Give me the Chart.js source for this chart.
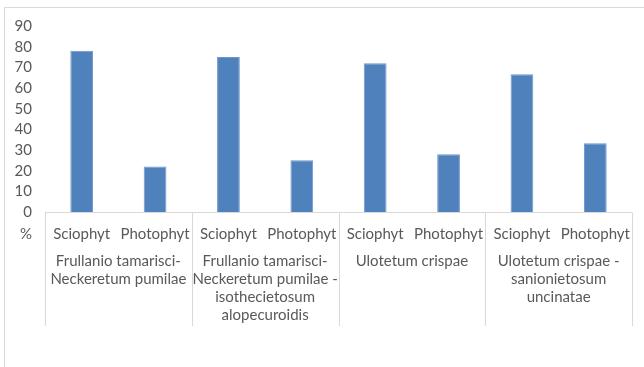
<!DOCTYPE html>
<html>
<head>
<meta charset="utf-8">
<script src="https://cdn.jsdelivr.net/npm/chart.js@4"></script>
<style>
  html, body { margin: 0; padding: 0; background: #fff; }
  #wrap { width: 644px; height: 367px; position: relative; }
</style>
</head>
<body>
<div id="wrap"><canvas id="chart" width="644" height="367"></canvas></div>
<script>
// Plant communities (outer axis level), each label split into its lines
const communities = [
  ['Frullanio tamarisci-', 'Neckeretum pumilae'],
  ['Frullanio tamarisci-', 'Neckeretum pumilae -', 'isothecietosum', 'alopecuroidis'],
  ['Ulotetum crispae'],
  ['Ulotetum crispae -', 'sanionietosum', 'uncinatae']
];
// Light preference groups (inner axis level)
const lightTypes = ['Sciophyt', 'Photophyt'];
// Share of species per group, in %
const sciophytValues = [78, 75, 72, 66.7];
const photophytValues = [22, 25, 28, 33.3];
const yTicks = [0, 10, 20, 30, 40, 50, 60, 70, 80, 90];
const yUnit = '%';

const labels = [];
const values = [];
communities.forEach((c, i) => {
  labels.push(lightTypes[0]); values.push(sciophytValues[i]);
  labels.push(lightTypes[1]); values.push(photophytValues[i]);
});

const FAMILY = 'Lato, "Open Sans", sans-serif';
const FONT = '15px ' + FAMILY;
const TEXT = '#595959';
const LINE = '#d9d9d9';

// Draws the outer frame, the two-level category axis and the unit label
const axisPlugin = {
  id: 'groupAxis',
  beforeDraw(chart) {
    const ctx = chart.ctx;
    ctx.save();
    ctx.fillStyle = '#fff';
    ctx.fillRect(0, 0, chart.width, chart.height);
    ctx.strokeStyle = LINE;
    ctx.lineWidth = 1;
    ctx.beginPath();
    ctx.moveTo(4.5, chart.height);
    ctx.lineTo(4.5, 7.5);
    ctx.lineTo(chart.width, 7.5);
    ctx.stroke();
    ctx.restore();
  },
  afterDraw(chart) {
    const ctx = chart.ctx;
    const x = chart.scales.x;
    const y = chart.scales.y;
    const zeroY = Math.round(y.getPixelForValue(0)) + 0.5;
    const step = x.getPixelForValue(1) - x.getPixelForValue(0);
    const bottom = 326;
    ctx.save();
    ctx.strokeStyle = LINE;
    ctx.lineWidth = 1;
    ctx.beginPath();
    ctx.moveTo(x.left, zeroY);
    ctx.lineTo(x.right, zeroY);
    for (let g = 0; g <= communities.length; g++) {
      const px = Math.round(x.getPixelForValue(g * 2) - step / 2) + 0.5;
      ctx.moveTo(px, zeroY);
      ctx.lineTo(px, bottom);
    }
    ctx.stroke();

    ctx.fillStyle = TEXT;
    ctx.font = FONT;
    ctx.textBaseline = 'middle';
    ctx.textAlign = 'center';
    labels.forEach((lab, i) => {
      ctx.fillText(lab, x.getPixelForValue(i), 234);
    });
    communities.forEach((lines, g) => {
      const cx = (x.getPixelForValue(g * 2) + x.getPixelForValue(g * 2 + 1)) / 2;
      lines.forEach((ln, k) => ctx.fillText(ln, cx, 261 + k * 18));
    });
    ctx.textAlign = 'right';
    ctx.fillText(yUnit, 32, 234);
    ctx.restore();
  }
};

new Chart(document.getElementById('chart'), {
  type: 'bar',
  data: {
    labels: labels,
    datasets: [{
      data: values,
      backgroundColor: '#4f81bd',
      borderColor: '#6f97c9',
      borderWidth: 1,
      categoryPercentage: 1,
      barPercentage: 0.31
    }]
  },
  options: {
    responsive: false,
    animation: false,
    devicePixelRatio: 1,
    layout: { padding: { left: 0, right: 12, top: 26, bottom: 0 } },
    plugins: { legend: { display: false }, tooltip: { enabled: false } },
    scales: {
      x: {
        grid: { display: false, drawTicks: false },
        border: { display: false },
        ticks: { display: false },
        afterFit(s) { s.height = 155; }
      },
      y: {
        min: 0,
        max: 90,
        afterBuildTicks(s) { s.ticks = yTicks.map(v => ({ value: v })); },
        grid: { display: false, drawTicks: false },
        border: { display: false },
        ticks: { color: TEXT, font: { family: FAMILY, size: 15 }, padding: 13, autoSkip: false },
        afterFit(s) { s.width = 45; }
      }
    }
  },
  plugins: [axisPlugin]
});
</script>
</body>
</html>
